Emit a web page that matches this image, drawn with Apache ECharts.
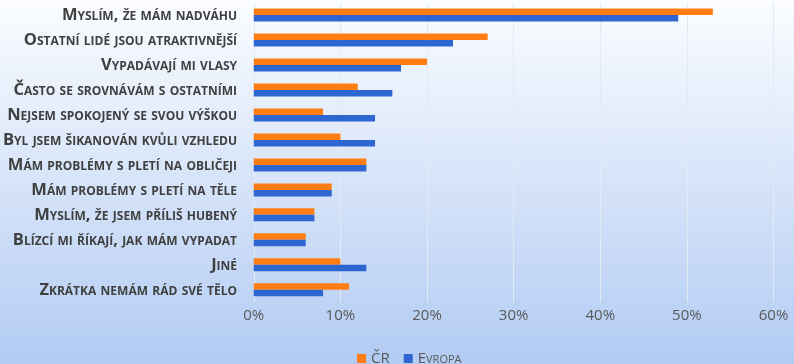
<!DOCTYPE html>
<html><head><meta charset="utf-8">
<script src="https://cdn.jsdelivr.net/npm/echarts@6/dist/echarts.min.js"></script>
<style>html,body{margin:0;padding:0;}#c{width:794px;height:364px;}</style>
</head><body><div id="c"></div>
<script>
const categories = [
  'Myslím, že mám nadváhu',
  'Ostatní lidé jsou atraktivnější',
  'Vypadávají mi vlasy',
  'Často se srovnávám s ostatními',
  'Nejsem spokojený se svou výškou',
  'Byl jsem šikanován kvůli vzhledu',
  'Mám problémy s pletí na obličeji',
  'Mám problémy s pletí na těle',
  'Myslím, že jsem příliš hubený',
  'Blízcí mi říkají, jak mám vypadat',
  'Jiné',
  'Zkrátka nemám rád své tělo'
];
const seriesNames = ['ČR', 'Evropa'];
const valuesCR = [53, 27, 20, 12, 8, 10, 13, 9, 7, 6, 10, 11];
const valuesEU = [49, 23, 17, 16, 14, 14, 13, 9, 7, 6, 13, 8];
const xTicks = [0, 10, 20, 30, 40, 50, 60];

const chart = echarts.init(document.getElementById('c'));
chart.setOption({
  animation: false,
  backgroundColor: new echarts.graphic.LinearGradient(0, 0, 0, 1, [
    {offset: 0, color: '#fbfdff'},
    {offset: 1, color: '#b2cbf3'}
  ]),
  grid: {left: 252.7, right: 20.5, top: 2.5, bottom: 61.7, containLabel: false},
  legend: {
    left: 352, top: 346,
    itemWidth: 9, itemHeight: 9, itemGap: 14,
    icon: 'rect',
    textStyle: {color: '#595959', fontSize: 15, fontStyle: 'small-caps', fontFamily: 'Open Sans'},
    data: seriesNames
  },
  xAxis: {
    type: 'value', min: xTicks[0], max: xTicks[xTicks.length - 1], interval: 10,
    axisLine: {show: false}, axisTick: {show: false},
    splitLine: {lineStyle: {color: '#e4eaf3', width: 1}},
    axisLabel: {formatter: v => v + '%', color: '#595959', fontSize: 15, margin: 6, fontFamily: 'Open Sans'}
  },
  yAxis: {
    type: 'category', data: categories, inverse: true,
    axisLine: {show: false}, axisTick: {show: false},
    axisLabel: {color: '#404040', fontSize: 16.5, fontWeight: 'bold', fontStyle: 'small-caps', fontFamily: 'Open Sans', margin: 16.7}
  },
  series: [
    {name: seriesNames[0], type: 'bar', data: valuesCR, itemStyle: {color: '#ff7d12'}, barWidth: 6.5, barGap: '0%'},
    {name: seriesNames[1], type: 'bar', data: valuesEU, itemStyle: {color: '#2e66d1'}, barWidth: 6.5, barGap: '0%'}
  ]
});
</script></body></html>
